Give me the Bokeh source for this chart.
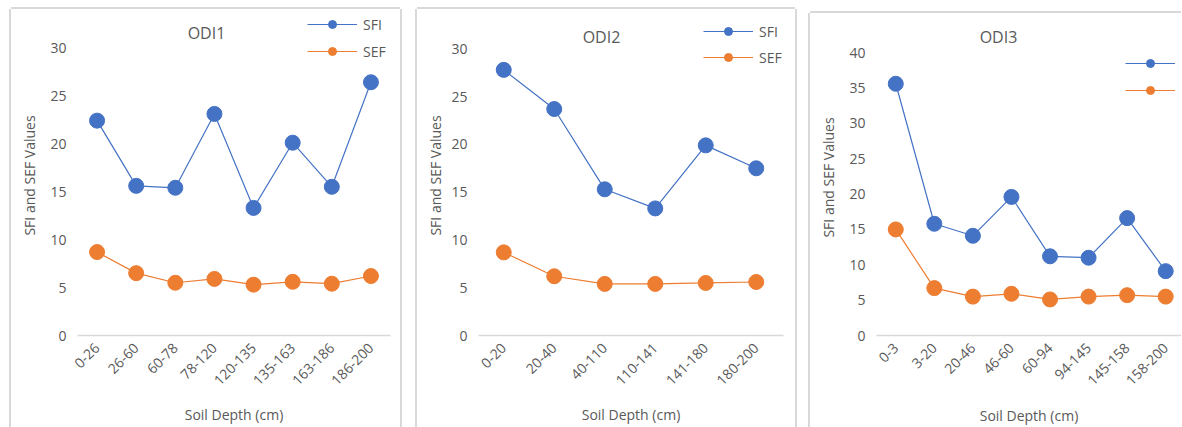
from bokeh.plotting import figure
from bokeh.layouts import row
from bokeh.models import Range1d, FixedTicker, Legend, LegendItem, Label
from bokeh.embed import file_html
from bokeh.resources import INLINE
import math

# ---------------- data ----------------
odi1_depths = ["0-26", "26-60", "60-78", "78-120", "120-135", "135-163", "163-186", "186-200"]
odi1_sfi = [22.4, 15.6, 15.4, 23.1, 13.3, 20.1, 15.5, 26.4]
odi1_sef = [8.7, 6.5, 5.5, 5.9, 5.3, 5.6, 5.4, 6.2]

odi2_depths = ["0-20", "20-40", "40-110", "110-141", "141-180", "180-200"]
odi2_sfi = [27.8, 23.7, 15.3, 13.3, 19.9, 17.5]
odi2_sef = [8.7, 6.2, 5.4, 5.4, 5.5, 5.6]

odi3_depths = ["0-3", "3-20", "20-46", "46-60", "60-94", "94-145", "145-158", "158-200"]
odi3_sfi = [35.6, 15.8, 14.1, 19.6, 11.2, 11.0, 16.6, 9.1]
odi3_sef = [15.0, 6.7, 5.5, 5.9, 5.1, 5.5, 5.7, 5.5]

y_ticks_12 = [0, 5, 10, 15, 20, 25, 30]
y_ticks_3 = [0, 5, 10, 15, 20, 25, 30, 35, 40]

series_names = ["SFI", "SEF"]
series_colors = ["#4472C4", "#ED7D31"]
x_title = "Soil Depth (cm)"
y_title = "SFI and SEF Values"

TEXT = "#595959"
FONT = "Open Sans"
BORDER = "#d9d9d9"
NAN = float("nan")


def make_panel(title, depths, sfi, sef, ticks, width, height, borders, y_end,
               x_end, legend_xy, legend_spacing, title_xy, show_labels, margin,
               shadow, xlab_standoff, ylab_standoff):
    n = len(depths)
    xs = list(range(n))
    bl, br, bt, bb = borders
    p = figure(width=width, height=height, output_backend="svg", toolbar_location=None,
               x_range=Range1d(-0.5, x_end), y_range=Range1d(0, y_end),
               min_border_left=bl, min_border_right=br, min_border_top=bt, min_border_bottom=bb,
               background_fill_color="white", border_fill_color="white")
    p.margin = margin
    p.styles = {"box-shadow": shadow}
    p.outline_line_color = None
    p.grid.visible = False

    # axes
    p.xaxis.ticker = FixedTicker(ticks=xs)
    p.xaxis.major_label_overrides = {i: d for i, d in enumerate(depths)}
    p.xaxis.major_label_orientation = math.pi / 4
    p.xaxis.axis_line_color = BORDER
    p.xaxis.axis_line_width = 1.3
    p.xaxis.major_tick_line_color = None
    p.xaxis.minor_tick_line_color = None
    p.xaxis.major_tick_out = 0
    p.xaxis.major_tick_in = 0
    p.xaxis.major_label_standoff = 10
    p.xaxis.axis_label = x_title
    p.xaxis.axis_label_standoff = xlab_standoff

    p.yaxis.ticker = FixedTicker(ticks=ticks)
    p.yaxis.axis_line_color = None
    p.yaxis.major_tick_line_color = None
    p.yaxis.minor_tick_line_color = None
    p.yaxis.major_tick_out = 0
    p.yaxis.major_tick_in = 0
    p.yaxis.major_label_standoff = 11
    p.yaxis.axis_label = y_title
    p.yaxis.axis_label_standoff = ylab_standoff

    for ax in (p.xaxis, p.yaxis):
        ax.major_label_text_font = FONT
        ax.major_label_text_font_size = "14px"
        ax.major_label_text_color = TEXT
        ax.axis_label_text_font = FONT
        ax.axis_label_text_font_size = "14px"
        ax.axis_label_text_color = TEXT
        ax.axis_label_text_font_style = "normal"

    items = []
    for name, vals, col in zip(series_names, [sfi, sef], series_colors):
        p.line(xs, vals, line_color=col, line_width=1.2)
        p.scatter(xs, vals, size=15, fill_color=col, line_color=col, line_width=1)
        # legend proxies (smaller marker as in the reference legend; NaN -> not drawn in plot)
        lr = p.line([0], [NAN], line_color=col, line_width=1.2)
        sr = p.scatter([0], [NAN], size=10, fill_color=col, line_color=col)
        items.append(LegendItem(label=name if show_labels else " ", renderers=[lr, sr]))

    legend = Legend(items=items, location=legend_xy, orientation="vertical",
                    glyph_width=50, glyph_height=20, label_height=20, label_width=10,
                    spacing=legend_spacing, padding=0, margin=0, label_standoff=6,
                    border_line_color=None, background_fill_alpha=0,
                    label_text_font=FONT, label_text_font_size="14px",
                    label_text_color=TEXT)
    p.add_layout(legend, "center")

    p.add_layout(Label(x=title_xy[0], y=title_xy[1], x_units="screen", y_units="screen",
                       text=title, text_align="center", text_baseline="middle",
                       text_font=FONT, text_font_size="16px", text_color=TEXT))
    return p


sh_full = f"-2px 0 0 0 {BORDER}, 2px 0 0 0 {BORDER}, 0 -2px 0 0 {BORDER}"
sh_left = f"-2px 0 0 0 {BORDER}, 0 -2px 0 0 {BORDER}"

p1 = make_panel("ODI1", odi1_depths, odi1_sfi, odi1_sef, y_ticks_12,
                width=389, height=418, borders=(66, 10, 6, 84), y_end=33.36, x_end=7.5,
                legend_xy=(230, 274), legend_spacing=7, title_xy=(129, 303),
                show_labels=True, margin=(9, 0, 0, 11),
                shadow=sh_full, xlab_standoff=12, ylab_standoff=8)
p2 = make_panel("ODI2", odi2_depths, odi2_sfi, odi2_sef, y_ticks_12,
                width=378, height=418, borders=(61, 12, 6, 89), y_end=33.49, x_end=5.54,
                legend_xy=(225, 268), legend_spacing=6, title_xy=(123, 299),
                show_labels=True, margin=(9, 0, 0, 17),
                shadow=sh_full, xlab_standoff=12, ylab_standoff=3)
p3 = make_panel("ODI3", odi3_depths, odi3_sfi, odi3_sef, y_ticks_3,
                width=371, height=414, borders=(66, 0, 5, 85), y_end=44.69, x_end=7.41,
                legend_xy=(249, 235), legend_spacing=7, title_xy=(122, 299),
                show_labels=False, margin=(13, 0, 0, 15),
                shadow=sh_left, xlab_standoff=13, ylab_standoff=8)

layout = row(p1, p2, p3, spacing=0)

open("out.html", "w").write(file_html(layout, INLINE))
